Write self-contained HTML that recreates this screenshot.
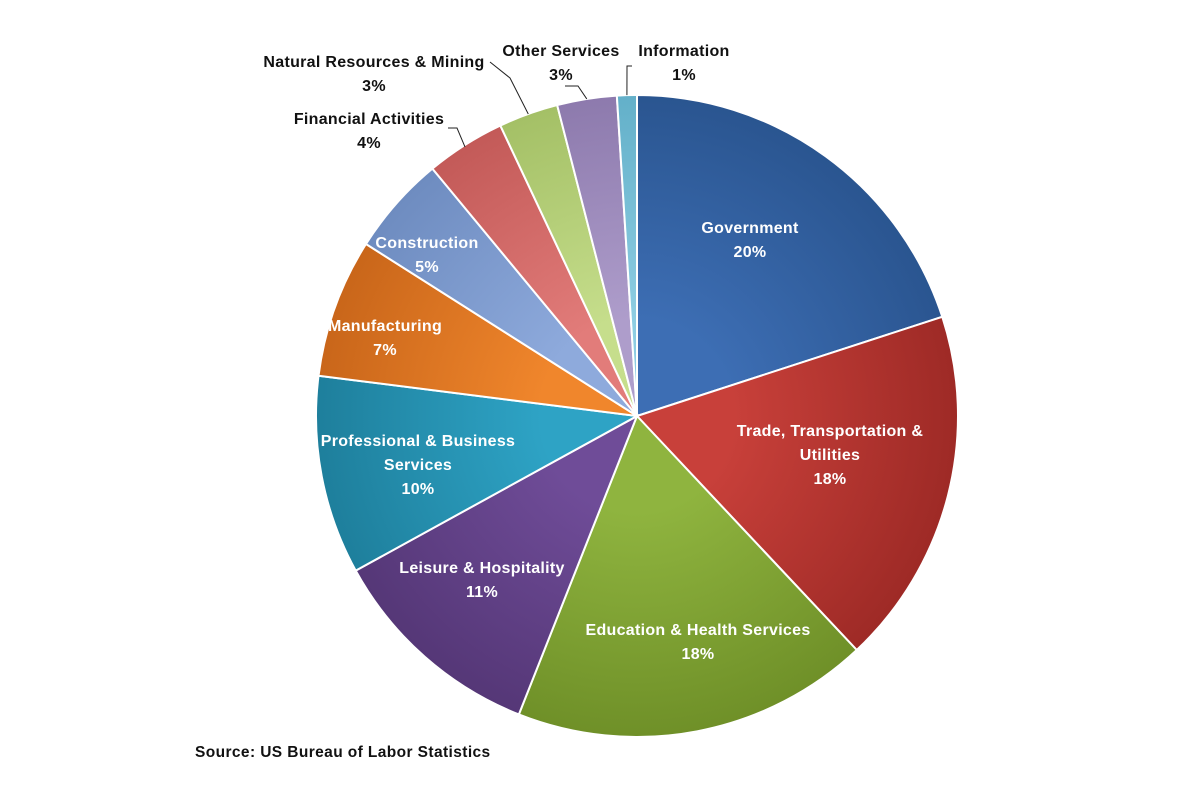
<!DOCTYPE html>
<html><head><meta charset="utf-8">
<style>
html,body{margin:0;padding:0;background:#fff;}
svg{display:block;font-family:"Liberation Sans",Arial,sans-serif;}
.in{fill:#fff;font-weight:bold;font-size:16px;letter-spacing:0.3px;text-anchor:middle;}
.out{fill:#111;font-weight:bold;font-size:16px;letter-spacing:0.3px;text-anchor:middle;}
</style></head>
<body>
<svg id="chart" width="1200" height="800" viewBox="0 0 1200 800">
<defs id="defs"></defs>
<g id="slices"></g>
<g id="labels"></g>
<text x="195" y="757" style="font-size:15.5px;font-weight:bold;fill:#111;letter-spacing:0.4px">Source: US Bureau of Labor Statistics</text>
</svg>
<script>
const categories=["Government","Trade, Transportation & Utilities","Education & Health Services","Leisure & Hospitality","Professional & Business Services","Manufacturing","Construction","Financial Activities","Natural Resources & Mining","Other Services","Information"];
const values=[20,18,18,11,10,7,5,4,3,3,1];
const pctLabels=["20%","18%","18%","11%","10%","7%","5%","4%","3%","3%","1%"];
const colors=["#3d6eb4","#c8403a","#8fb43f","#6f4c98","#2ea3c5","#f0862c","#8eaadc","#e27c7a","#c6de8c","#ae9dcb","#8dcde2"];
const dark=["#2a5590","#9e2a26","#6f9028","#553777","#1e7f9c","#c9661a","#6e8cc0","#c35a58","#a4c066","#8d7aad","#63b0c9"];
const cx=637,cy=416,R=321;
const NS="http://www.w3.org/2000/svg";
const total=values.reduce((a,b)=>a+b,0);
function pt(a,r){return [cx+r*Math.sin(a),cy-r*Math.cos(a)];}
const defs=document.getElementById('defs'),gs=document.getElementById('slices'),gl=document.getElementById('labels');
let a0=0;
const mids=[];
values.forEach((v,i)=>{
  const a1=a0+v/total*2*Math.PI;
  const g=document.createElementNS(NS,'radialGradient');
  g.setAttribute('id','g'+i);g.setAttribute('cx',cx);g.setAttribute('cy',cy);g.setAttribute('r',R);g.setAttribute('gradientUnits','userSpaceOnUse');
  g.innerHTML=`<stop offset="0.3" stop-color="${colors[i]}"/><stop offset="1" stop-color="${dark[i]}"/>`;
  defs.appendChild(g);
  const p0=pt(a0,R),p1=pt(a1,R);
  const path=document.createElementNS(NS,'path');
  path.setAttribute('d',`M${cx},${cy}L${p0[0]},${p0[1]}A${R},${R} 0 ${a1-a0>Math.PI?1:0} 1 ${p1[0]},${p1[1]}Z`);
  path.setAttribute('fill','url(#g'+i+')');path.setAttribute('stroke','#fff');path.setAttribute('stroke-width','2');
  
  
  gs.appendChild(path);
  mids.push((a0+a1)/2);
  a0=a1;
});
const labelLines=[["Government"],["Trade, Transportation  &","Utilities"],["Education & Health Services"],["Leisure & Hospitality"],["Professional & Business","Services"],["Manufacturing"],["Construction"],["Financial Activities"],["Natural Resources & Mining"],["Other Services"],["Information"]];
const labelPos=[[750,233,1],[830,436,1],[698,635,1],[482,573,1],[418,446,1],[385,331,1],[427,248,1],[369,124,0],[374,67,0],[561,56,0],[684,56,0]];
values.forEach((v,i)=>{
  const [x,y,inside]=labelPos[i];
  const t=document.createElementNS(NS,'text');
  t.setAttribute('class',inside?'in':'out');
  
  
  const lines=labelLines[i].concat([pctLabels[i]]);
  lines.forEach((s,k)=>{const ts=document.createElementNS(NS,'tspan');ts.setAttribute('x',x);ts.setAttribute('y',y+k*24);ts.textContent=s;t.appendChild(ts);});
  gl.appendChild(t);
  if(!inside){
    const p=pt(mids[i],R);
    const l=document.createElementNS(NS,'polyline');
    let pts;
    if(i===7)pts=`${p[0]},${p[1]+2} 457,128 448,128`;
    else if(i===8)pts=`${p[0]},${p[1]} 510,78 490,62`;
    else if(i===9)pts=`${p[0]},${p[1]} 578,86 565,86`;
    else pts=`${p[0]},${p[1]} 627,66 632,66`;
    l.setAttribute('points',pts);l.setAttribute('fill','none');l.setAttribute('stroke','#222');l.setAttribute('stroke-width','1');
    
    
    gl.appendChild(l);
  }
});
</script>
</body></html>
